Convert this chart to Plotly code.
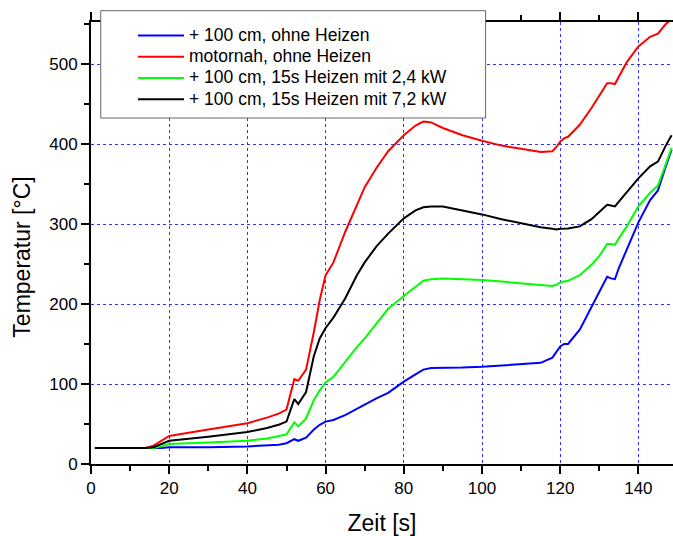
import plotly.graph_objects as go

# Time axis (s)
zeit = [1, 14, 16, 18, 20, 30, 40, 45, 48, 50, 52, 53, 55, 57, 58.5, 60, 62, 65, 68, 70,
        73, 76, 80, 83, 85, 87, 90, 95, 100, 105, 110, 115, 118, 119, 120, 121, 122, 125,
        128, 130, 132, 133, 134, 135, 137, 140, 143, 145, 147, 148.5]

# Temperatures (°C)
blau_100cm = [20, 20, 20, 20, 21, 21, 22, 23.5, 24, 26, 31, 29, 33, 43, 49, 53, 55, 61, 69, 75,
              82, 89, 103, 112, 118, 120, 120, 120.5, 121.5, 123, 124.5, 126.5, 133, 140, 147, 150, 150, 168,
              196, 215, 234, 232, 231, 245, 268, 302, 330, 342, 372, 393]
rot_motornah = [20, 20, 23, 29, 35, 43, 51, 58, 63, 68, 106, 104, 118, 165, 205, 236, 252, 290, 325, 346,
                370, 391, 411, 423, 428, 427, 420, 411, 404, 398, 394, 390, 391, 396, 403, 407, 409, 424,
                445, 460, 476, 476, 475, 484, 502, 522, 534, 538, 550, 556]
gruen_24kw = [20, 20, 20, 22, 25, 27, 29, 32, 35, 37, 52, 47, 57, 80, 92, 102, 109, 128, 146, 157,
              176, 194, 210, 222, 229, 231, 232, 231, 230, 228, 226, 224, 222.5, 224, 227, 228, 229, 236,
              249, 260, 275, 275, 274, 282, 297, 322, 339, 348, 374, 395]
schwarz_72kw = [20, 20, 21, 25, 29, 34, 40, 45, 49, 53, 81, 75, 90, 135, 157, 170, 183, 207, 236, 252,
                272, 288, 307, 317, 321, 322, 322, 317, 312, 306, 301, 296, 294, 293, 294, 294, 294.5, 297,
                306, 315, 324, 323, 322, 328, 340, 357, 372, 378, 398, 411]

namen = ["+ 100 cm, ohne Heizen", "motornah, ohne Heizen",
         "+ 100 cm, 15s Heizen mit 2,4 kW", "+ 100 cm, 15s Heizen mit 7,2 kW"]
farben = ["#0000FF", "#FF0000", "#00FF00", "#000000"]
serien = [blau_100cm, rot_motornah, gruen_24kw, schwarz_72kw]

x_ticks = [0, 20, 40, 60, 80, 100, 120, 140]
y_ticks = [0, 100, 200, 300, 400, 500]

FONT = "Liberation Sans, Arial, sans-serif"

fig = go.Figure()
for name, col, ys in zip(namen, farben, serien):
    fig.add_trace(go.Scatter(x=zeit, y=ys, mode="lines",
                             name='<span style="font-size:17.5px">' + name + '</span>',
                             line=dict(color=col, width=2)))

axis_common = dict(
    showline=True, linecolor="black", linewidth=2,
    ticks="outside", tickcolor="black", tickwidth=2, ticklen=8,
    showgrid=True, gridcolor="#3333FF", griddash="dot", gridwidth=1,
    zeroline=False,
    tickfont=dict(family=FONT, size=17, color="black"),
)

fig.update_xaxes(
    range=[0, 148.85], tickvals=x_ticks, mirror="ticks",
    minor=dict(dtick=10, ticks="outside", ticklen=5, tickwidth=2, tickcolor="black", showgrid=False),
    title=dict(text="Zeit [s]", font=dict(family=FONT, size=23, color="black"), standoff=18),
    **axis_common)
fig.update_yaxes(
    range=[0, 552.5], tickvals=y_ticks,
    minor=dict(dtick=50, ticks="outside", ticklen=5, tickwidth=2, tickcolor="black", showgrid=False),
    **axis_common)

fig.add_annotation(text="Temperatur [°C]", xref="paper", yref="paper",
                   x=-0.1177, y=0.468, textangle=-90, showarrow=False,
                   xanchor="center", yanchor="middle",
                   font=dict(family=FONT, size=23, color="black"))

fig.add_shape(type="rect", xref="paper", yref="paper",
              x0=0.0167, x1=0.678, y0=0.7828, y1=1.0256,
              fillcolor="white", line=dict(color="#666666", width=1), layer="above")

fig.update_layout(
    width=673, height=536,
    margin=dict(l=91, r=0, t=22, b=72),
    paper_bgcolor="white", plot_bgcolor="white",
    font=dict(family=FONT, color="black"),
    legend=dict(x=0.0722, y=1.0045, xanchor="left", yanchor="top",
                bgcolor="rgba(0,0,0,0)", borderwidth=0,
                font=dict(family=FONT, size=14, color="black"),
                itemwidth=46),
    showlegend=True,
)

fig.write_html("out.html")
